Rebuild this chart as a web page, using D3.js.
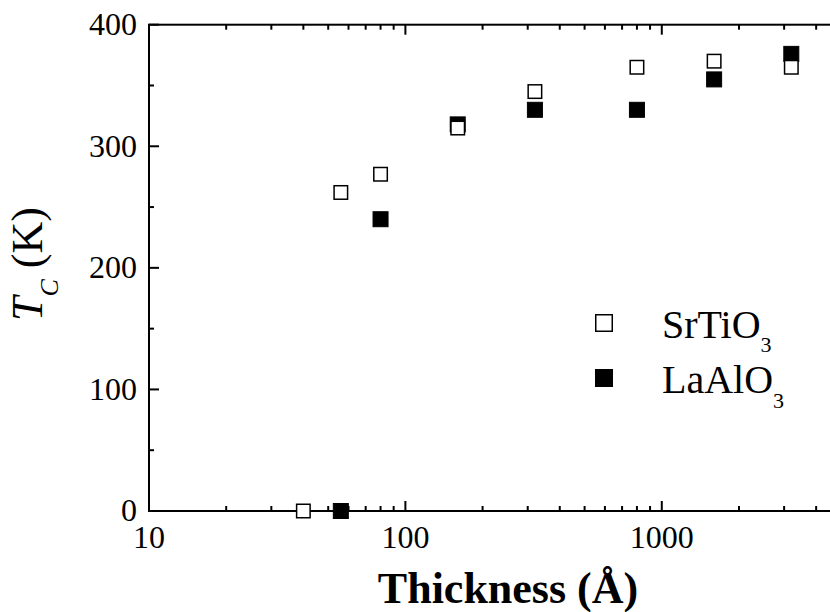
<!DOCTYPE html>
<html>
<head>
<meta charset="utf-8">
<script src="https://cdn.jsdelivr.net/npm/d3@7"></script>
<style>
  html, body { margin: 0; padding: 0; background: #fff; }
  svg { display: block; font-family: "Liberation Serif", "Times New Roman", serif; }
</style>
</head>
<body>
<div id="container"></div>
<script>
// Data
const srtio3Thickness = [40, 56, 80, 160, 320, 800, 1600, 3200];
const srtio3Tc        = [0, 262, 277, 315, 345, 365, 370, 365];
const laalo3Thickness = [56, 80, 160, 320, 800, 1600, 3200];
const laalo3Tc        = [0, 240, 318, 330, 330, 355, 376];
const xTickLabels = [10, 100, 1000];
const yTickLabels = [0, 100, 200, 300, 400];

const width = 830;
const height = 612;

// plot frame (right edge falls just outside the window)
const plotLeft = 149, plotRight = 841, plotTop = 24.7, plotBottom = 511;

const svg = d3.select("#container").append("svg")
    .attr("width", width)
    .attr("height", height);

const x = d3.scaleLog().domain([10, 5000]).range([plotLeft, plotRight]);
const y = d3.scaleLinear().domain([0, 400]).range([plotBottom, plotTop]);

// minor/major ticks
const xMajor = [10, 100, 1000];
const xMinor = [];
[10, 100, 1000].forEach(dec => {
    for (let k = 2; k <= 9; k++) if (dec * k <= 5000) xMinor.push(dec * k);
});
const yMajor = d3.range(0, 401, 100);
const yMinor = d3.range(50, 400, 100);

const axes = svg.append("g")
    .attr("stroke", "#000")
    .attr("stroke-width", 2)
    .attr("fill", "none");

// frame
axes.append("rect")
    .attr("x", plotLeft).attr("y", plotTop)
    .attr("width", plotRight - plotLeft).attr("height", plotBottom - plotTop);

// bottom and top ticks (inward)
xMajor.forEach(v => {
    axes.append("line").attr("x1", x(v)).attr("x2", x(v)).attr("y1", plotBottom).attr("y2", plotBottom - 10);
    axes.append("line").attr("x1", x(v)).attr("x2", x(v)).attr("y1", plotTop).attr("y2", plotTop + 10);
});
xMinor.forEach(v => {
    axes.append("line").attr("x1", x(v)).attr("x2", x(v)).attr("y1", plotBottom).attr("y2", plotBottom - 5);
    axes.append("line").attr("x1", x(v)).attr("x2", x(v)).attr("y1", plotTop).attr("y2", plotTop + 5);
});
// left and right ticks (inward)
yMajor.forEach(v => {
    axes.append("line").attr("x1", plotLeft).attr("x2", plotLeft + 10).attr("y1", y(v)).attr("y2", y(v));
    axes.append("line").attr("x1", plotRight).attr("x2", plotRight - 10).attr("y1", y(v)).attr("y2", y(v));
});
yMinor.forEach(v => {
    axes.append("line").attr("x1", plotLeft).attr("x2", plotLeft + 5).attr("y1", y(v)).attr("y2", y(v));
    axes.append("line").attr("x1", plotRight).attr("x2", plotRight - 5).attr("y1", y(v)).attr("y2", y(v));
});

// tick labels
svg.append("g")
    .selectAll("text")
    .data(yTickLabels)
    .join("text")
    .attr("x", plotLeft - 12)
    .attr("y", d => y(d))
    .attr("dy", "0.32em")
    .attr("text-anchor", "end")
    .attr("font-size", 32)
    .text(d => d);

svg.append("g")
    .selectAll("text")
    .data(xTickLabels)
    .join("text")
    .attr("x", d => x(d))
    .attr("y", plotBottom + 37)
    .attr("text-anchor", "middle")
    .attr("font-size", 32)
    .text(d => d);

// axis titles
svg.append("text")
    .attr("x", 508)
    .attr("y", 603)
    .attr("text-anchor", "middle")
    .attr("font-size", 44)
    .attr("font-weight", "bold")
    .text("Thickness (Å)");

const yTitle = svg.append("text")
    .attr("transform", "translate(42,264) rotate(-90)")
    .attr("text-anchor", "middle")
    .attr("font-size", 44);
yTitle.append("tspan").attr("font-style", "italic").text("T");
yTitle.append("tspan").attr("font-style", "italic").attr("font-size", 26).attr("dy", 16).text("C");
yTitle.append("tspan").attr("dy", -16).text(" (K)");

// data markers
const size = 15;
const pts = (xs, ys) => xs.map((t, i) => ({ t, tc: ys[i] }));

svg.append("g")
    .selectAll("rect")
    .data(pts(laalo3Thickness, laalo3Tc))
    .join("rect")
    .attr("x", d => x(d.t) - size / 2)
    .attr("y", d => y(d.tc) - size / 2)
    .attr("width", size)
    .attr("height", size)
    .attr("fill", "#000")
    .attr("stroke", "#000")
    .attr("stroke-width", 1);

svg.append("g")
    .selectAll("rect")
    .data(pts(srtio3Thickness, srtio3Tc))
    .join("rect")
    .attr("x", d => x(d.t) - size / 2 + 0.75)
    .attr("y", d => y(d.tc) - size / 2 + 0.75)
    .attr("width", size - 1.5)
    .attr("height", size - 1.5)
    .attr("fill", "#fff")
    .attr("stroke", "#000")
    .attr("stroke-width", 1.5);

// legend
const legend = svg.append("g");
const legSize = 18;
legend.append("rect")
    .attr("x", 604 - legSize / 2 + 0.75).attr("y", 323 - legSize / 2 + 0.75)
    .attr("width", legSize - 1.5).attr("height", legSize - 1.5)
    .attr("fill", "#fff").attr("stroke", "#000").attr("stroke-width", 1.5);
legend.append("rect")
    .attr("x", 604 - legSize / 2).attr("y", 378 - legSize / 2)
    .attr("width", legSize).attr("height", legSize)
    .attr("fill", "#000");

const l1 = legend.append("text").attr("x", 662).attr("y", 338).attr("font-size", 40);
l1.append("tspan").text("SrTiO");
l1.append("tspan").attr("font-size", 22).attr("dy", 14).text("3");
const l2 = legend.append("text").attr("x", 662).attr("y", 393).attr("font-size", 40);
l2.append("tspan").text("LaAlO");
l2.append("tspan").attr("font-size", 22).attr("dy", 15).text("3");
</script>
</body>
</html>
